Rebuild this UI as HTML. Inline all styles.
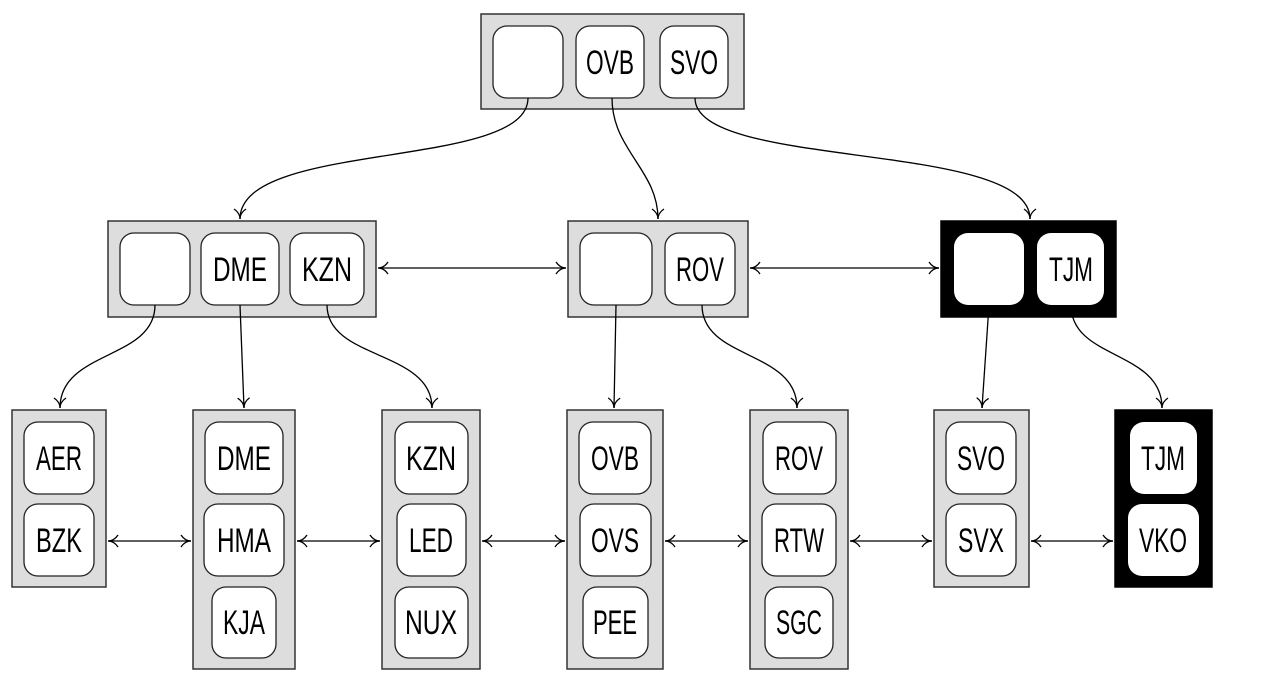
<!DOCTYPE html>
<html><head><style>html,body{margin:0;padding:0;background:#fff}svg{display:block}</style></head><body>
<svg width="1277" height="695" viewBox="0 0 1277 695" xmlns="http://www.w3.org/2000/svg">
<defs>
<marker id="a" markerWidth="14" markerHeight="14" refX="11" refY="7" orient="auto-start-reverse" markerUnits="userSpaceOnUse">
<path d="M1,1 Q5,7 11,7 Q5,7 1,13" fill="none" stroke="#000" stroke-width="1.3"/>
</marker>
</defs>
<g fill="#ddd" stroke="#333" stroke-width="1.5">
<rect x="481" y="14" width="263" height="95"/>
<rect x="108" y="221" width="268" height="96"/>
<rect x="568" y="221" width="180" height="96"/>
<rect x="941" y="221" width="175" height="96" fill="#000" stroke="#000"/>
<rect x="12" y="410" width="94" height="177"/>
<rect x="193" y="410" width="102" height="259"/>
<rect x="382" y="410" width="98" height="259"/>
<rect x="567" y="410" width="96" height="259"/>
<rect x="750" y="410" width="98" height="259"/>
<rect x="934" y="410" width="95" height="177"/>
<rect x="1115" y="410" width="97" height="177" fill="#000" stroke="#000"/>
</g>
<g fill="#fff" stroke="#222" stroke-width="1.3">
<rect x="493" y="26" width="70" height="72" rx="14"/>
<rect x="576" y="26" width="68" height="72" rx="14"/>
<rect x="660" y="26" width="68" height="72" rx="14"/>
<rect x="120" y="233" width="70" height="72" rx="14"/>
<rect x="201" y="233" width="78" height="72" rx="14"/>
<rect x="290" y="233" width="74" height="72" rx="14"/>
<rect x="580" y="233" width="72" height="72" rx="14"/>
<rect x="665" y="233" width="70" height="72" rx="14"/>
<rect x="954" y="233" width="70" height="72" rx="14" stroke="none"/>
<rect x="1037" y="233" width="67" height="72" rx="14" stroke="none"/>
<rect x="24" y="422" width="70" height="72" rx="14"/>
<rect x="24" y="504" width="70" height="72" rx="14"/>
<rect x="205" y="422" width="78" height="72" rx="14"/>
<rect x="204" y="504" width="80" height="72" rx="14"/>
<rect x="212" y="587" width="64" height="71" rx="14"/>
<rect x="395" y="422" width="73" height="72" rx="14"/>
<rect x="397" y="504" width="69" height="72" rx="14"/>
<rect x="395" y="587" width="73" height="71" rx="14"/>
<rect x="579" y="422" width="72" height="72" rx="14"/>
<rect x="580" y="504" width="71" height="72" rx="14"/>
<rect x="583" y="587" width="65" height="71" rx="14"/>
<rect x="763" y="422" width="73" height="72" rx="14"/>
<rect x="762" y="504" width="74" height="72" rx="14"/>
<rect x="765" y="587" width="68" height="71" rx="14"/>
<rect x="946" y="422" width="70" height="72" rx="14"/>
<rect x="946" y="504" width="70" height="72" rx="14"/>
<rect x="1130" y="422" width="67" height="72" rx="14" stroke="none"/>
<rect x="1128" y="504" width="71" height="72" rx="14" stroke="none"/>
</g>
<g font-family="Liberation Sans, sans-serif" font-size="34" text-anchor="middle" fill="#000">
<text x="610" y="74" textLength="48" lengthAdjust="spacingAndGlyphs">OVB</text>
<text x="694" y="74" textLength="48" lengthAdjust="spacingAndGlyphs">SVO</text>
<text x="240" y="281" textLength="54" lengthAdjust="spacingAndGlyphs">DME</text>
<text x="327" y="281" textLength="50" lengthAdjust="spacingAndGlyphs">KZN</text>
<text x="700" y="281" textLength="48" lengthAdjust="spacingAndGlyphs">ROV</text>
<text x="1071" y="281" textLength="44" lengthAdjust="spacingAndGlyphs">TJM</text>
<text x="59" y="470" textLength="46" lengthAdjust="spacingAndGlyphs">AER</text>
<text x="59" y="552" textLength="46" lengthAdjust="spacingAndGlyphs">BZK</text>
<text x="244" y="470" textLength="54" lengthAdjust="spacingAndGlyphs">DME</text>
<text x="244" y="552" textLength="54" lengthAdjust="spacingAndGlyphs">HMA</text>
<text x="244" y="634" textLength="42" lengthAdjust="spacingAndGlyphs">KJA</text>
<text x="431" y="470" textLength="50" lengthAdjust="spacingAndGlyphs">KZN</text>
<text x="431" y="552" textLength="44" lengthAdjust="spacingAndGlyphs">LED</text>
<text x="431" y="634" textLength="52" lengthAdjust="spacingAndGlyphs">NUX</text>
<text x="615" y="470" textLength="48" lengthAdjust="spacingAndGlyphs">OVB</text>
<text x="615" y="552" textLength="48" lengthAdjust="spacingAndGlyphs">OVS</text>
<text x="615" y="634" textLength="44" lengthAdjust="spacingAndGlyphs">PEE</text>
<text x="799" y="470" textLength="48" lengthAdjust="spacingAndGlyphs">ROV</text>
<text x="799" y="552" textLength="50" lengthAdjust="spacingAndGlyphs">RTW</text>
<text x="799" y="634" textLength="46" lengthAdjust="spacingAndGlyphs">SGC</text>
<text x="981" y="470" textLength="48" lengthAdjust="spacingAndGlyphs">SVO</text>
<text x="981" y="552" textLength="46" lengthAdjust="spacingAndGlyphs">SVX</text>
<text x="1163" y="470" textLength="44" lengthAdjust="spacingAndGlyphs">TJM</text>
<text x="1163" y="552" textLength="48" lengthAdjust="spacingAndGlyphs">VKO</text>
</g>
<g fill="none" stroke="#000" stroke-width="1.3">
<path d="M528,98 C528,170 240,140 240,219" marker-end="url(#a)"/>
<path d="M612,98 C612,150 658,170 658,219" marker-end="url(#a)"/>
<path d="M695,98 C695,170 1030,140 1030,219" marker-end="url(#a)"/>
<path d="M155,305 C155,360 60,350 60,408" marker-end="url(#a)"/>
<path d="M240,305 L244,408" marker-end="url(#a)"/>
<path d="M327,305 C327,360 432,350 432,408" marker-end="url(#a)"/>
<path d="M616,305 L614,408" marker-end="url(#a)"/>
<path d="M702,305 C702,360 797,350 797,408" marker-end="url(#a)"/>
<path d="M989,305 L982,408" marker-end="url(#a)"/>
<path d="M1071,305 C1071,360 1162,350 1162,408" marker-end="url(#a)"/>
<path d="M378,268 L566,268" marker-start="url(#a)" marker-end="url(#a)"/>
<path d="M750,268 L939,268" marker-start="url(#a)" marker-end="url(#a)"/>
<path d="M108,541 L191,541" marker-start="url(#a)" marker-end="url(#a)"/>
<path d="M297,541 L380,541" marker-start="url(#a)" marker-end="url(#a)"/>
<path d="M482,541 L565,541" marker-start="url(#a)" marker-end="url(#a)"/>
<path d="M665,541 L748,541" marker-start="url(#a)" marker-end="url(#a)"/>
<path d="M850,541 L932,541" marker-start="url(#a)" marker-end="url(#a)"/>
<path d="M1031,541 L1113,541" marker-start="url(#a)" marker-end="url(#a)"/>
</g>
</svg>
</body></html>
